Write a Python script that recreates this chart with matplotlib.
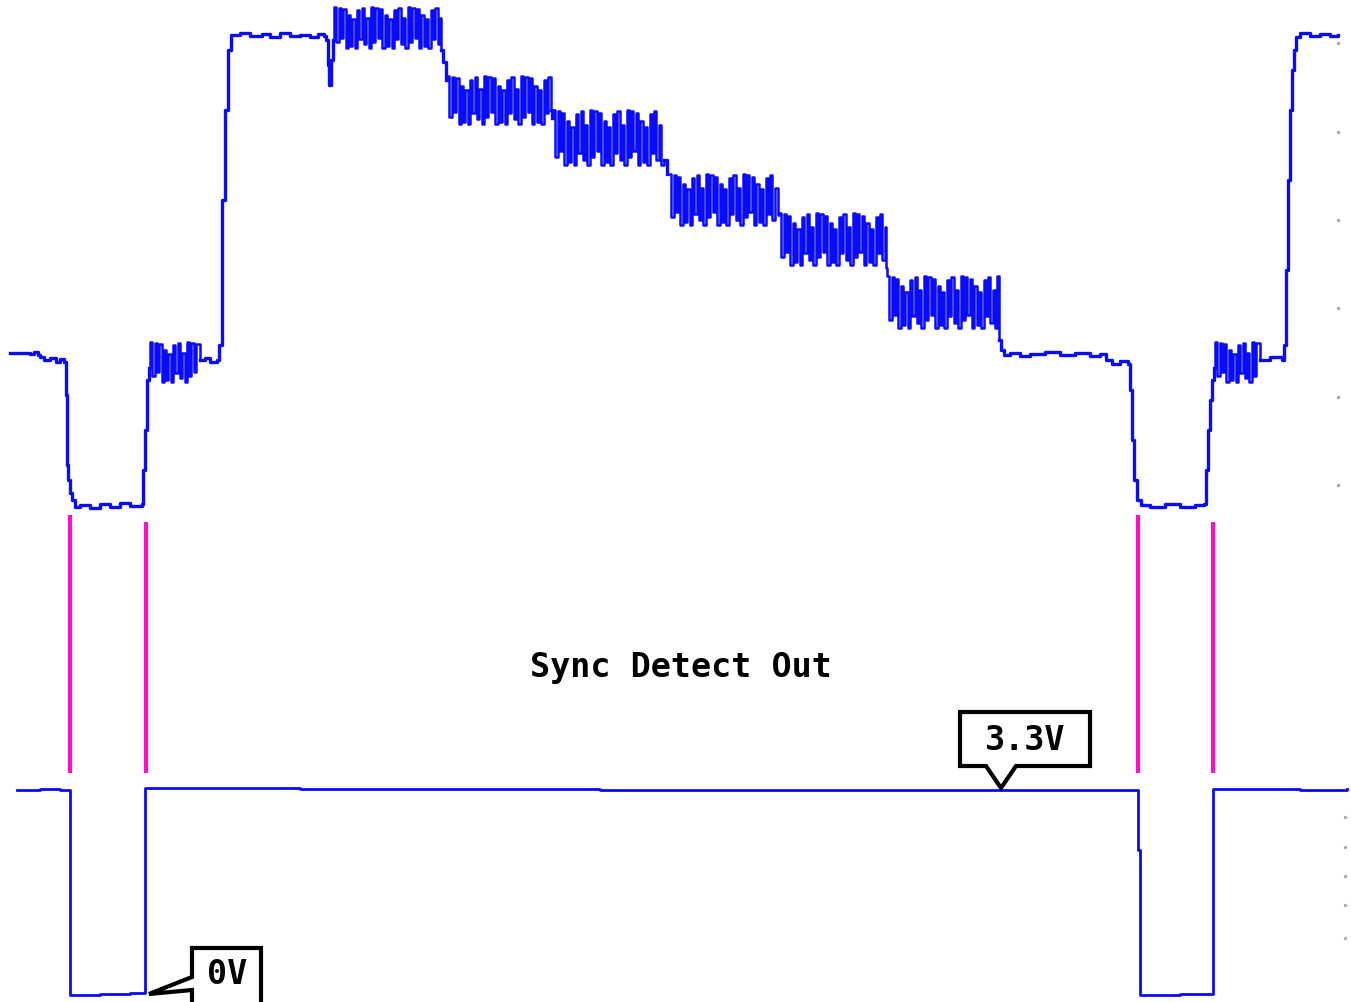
import matplotlib
matplotlib.use("Agg")
import matplotlib.pyplot as plt
from matplotlib.patches import Polygon

# ---------------- data (screen units: x right, y down) ----------------
# Composite video trace: key points of the waveform outline
video_pre_x = [10, 30, 34, 38, 40, 44, 50, 56, 60, 64, 66, 67, 68, 70, 72, 75, 80, 90, 100, 110, 120, 130, 142, 143, 145, 147, 149]
video_pre_y = [353, 354, 352, 355, 357, 360, 358, 362, 359, 362, 395, 465, 480, 493, 500, 507, 505, 508, 504, 507, 503, 506, 504, 470, 430, 380, 368]

# Burst / chroma regions: (x_start, x_end, top, bottom)
burst_x0 = [150, 334, 447, 553, 669, 779, 887, 1215]
burst_x1 = [198, 440, 550, 663, 777, 885, 998, 1258]
burst_top = [342, 7, 76, 110, 174, 213, 276, 342]
burst_bot = [382, 48, 124, 165, 225, 265, 328, 382]
# repeating amplitude pattern of the burst half-cycles (fraction of envelope)
burst_pattern = [1.0, 0.7, 0.95, 0.5, 0.9, 1.0, 0.6, 0.9, 0.4, 1.0, 0.85, 0.55, 0.95, 0.8, 0.45, 1.0]

# outline between bursts
link_x = [
    [200, 205, 210, 217, 219, 222, 225, 228, 231, 240, 250, 262, 270, 280, 290, 300, 310, 318, 324, 326, 328, 329, 331, 333],
    [441, 443, 446],
    [551, 552],
    [664, 667],
    [778],
    [886],
    [999, 1001, 1004, 1010, 1020, 1030, 1045, 1060, 1075, 1090, 1100, 1106, 1112, 1120, 1128, 1130, 1132, 1134,
     1137, 1141, 1150, 1165, 1180, 1195, 1204, 1206, 1208, 1210, 1212, 1214],
]
link_y = [
    [360, 358, 362, 360, 345, 200, 110, 50, 35, 33, 36, 34, 37, 33, 36, 35, 37, 34, 36, 40, 65, 85, 60, 40],
    [50, 62, 80],
    [110, 118],
    [160, 174],
    [215],
    [268],
    [340, 350, 355, 353, 356, 354, 352, 355, 353, 356, 354, 360, 364, 361, 364, 390, 440, 480,
     500, 505, 507, 504, 507, 505, 504, 470, 430, 400, 380, 368],
]
video_post_x = [1260, 1270, 1282, 1284, 1286, 1288, 1290, 1292, 1294, 1296, 1300, 1310, 1320, 1330, 1338]
video_post_y = [360, 357, 360, 345, 270, 180, 110, 70, 50, 37, 33, 36, 34, 36, 35]

# Sync detect output
sync_x = [17, 40, 60, 70, 100, 130, 145, 300, 600, 900, 1138, 1140, 1180, 1213, 1300, 1347]
sync_y = [790, 789, 790, 995, 994, 993, 788, 789, 790, 790, 850, 995, 994, 789, 790, 789]

# Magenta sync markers
marker_x = [70, 146, 1138, 1213]
marker_top = [515, 522, 515, 522]
marker_bot = [773, 773, 773, 773]

# Graticule dots
dot_x = [1338] * 6 + [1345] * 5
dot_y = [43, 132, 220, 308, 397, 485, 817, 847, 876, 905, 938]

title_text = "Sync Detect Out"
label_hi = "3.3V"
label_lo = "0V"

# ---------------- build the video polyline ----------------
def burst_points(x0, x1, top, bot):
    xs, ys = [], []
    c = (top + bot) / 2.0
    h = (bot - top) / 2.0
    x = x0
    i = 0
    while x <= x1:
        a = burst_pattern[i % len(burst_pattern)]
        sign = -1 if i % 2 == 0 else 1
        xs.append(x)
        ys.append(c + sign * h * a)
        x += 2.3
        i += 1
    return xs, ys

vx, vy = list(video_pre_x), list(video_pre_y)
for k in range(len(burst_x0)):
    bx, by = burst_points(burst_x0[k], burst_x1[k], burst_top[k], burst_bot[k])
    vx += bx
    vy += by
    if k < len(link_x):
        vx += link_x[k]
        vy += link_y[k]
vx += video_post_x
vy += video_post_y

# ---------------- draw ----------------
fig = plt.figure(figsize=(13.51, 10.02), dpi=100)
ax = fig.add_axes([0, 0, 1, 1])
ax.set_xlim(0, 1351)
ax.set_ylim(1002, 0)
ax.axis("off")

blue = "#0a0aff"
# full trace (bursts drawn a bit thinner), then the outline pieces thicker on top
ax.plot(vx, vy, color=blue, lw=1.8, drawstyle="steps-post")
for px, py in [(video_pre_x, video_pre_y)] + list(zip(link_x, link_y)) + [(video_post_x, video_post_y)]:
    if len(px) > 1:
        ax.plot(px, py, color=blue, lw=2.4, drawstyle="steps-post")
ax.plot(sync_x, sync_y, color=blue, lw=2.0, drawstyle="steps-post")

for x, t, b in zip(marker_x, marker_top, marker_bot):
    ax.plot([x, x], [t, b], color="#ff10c8", lw=3, solid_capstyle="butt")

ax.scatter(dot_x, dot_y, s=2, color="#aaaaaa", zorder=1)

mono = ["DejaVu Sans Mono"]
ax.text(681, 667, title_text, ha="center", va="center", fontsize=24,
        fontweight="bold", family=mono, color="black")

# 3.3V callout
hi_poly = [(960, 712), (1090, 712), (1090, 766), (1016, 766), (1001, 788),
           (986, 766), (960, 766)]
ax.add_patch(Polygon(hi_poly, closed=True, facecolor="white", edgecolor="black",
                     lw=3, joinstyle="miter", zorder=5))
ax.text(1025, 740, label_hi, ha="center", va="center", fontsize=24,
        fontweight="bold", family=mono, color="black", zorder=6)

# 0V callout
lo_poly = [(192, 948), (261, 948), (261, 1015), (192, 1015), (192, 990),
           (149, 994), (192, 977)]
ax.add_patch(Polygon(lo_poly, closed=True, facecolor="white", edgecolor="black",
                     lw=3, joinstyle="miter", zorder=5))
ax.text(227, 975, label_lo, ha="center", va="center", fontsize=24,
        fontweight="bold", family=mono, color="black", zorder=6)

fig.savefig("out.png", dpi=100, facecolor="white")
